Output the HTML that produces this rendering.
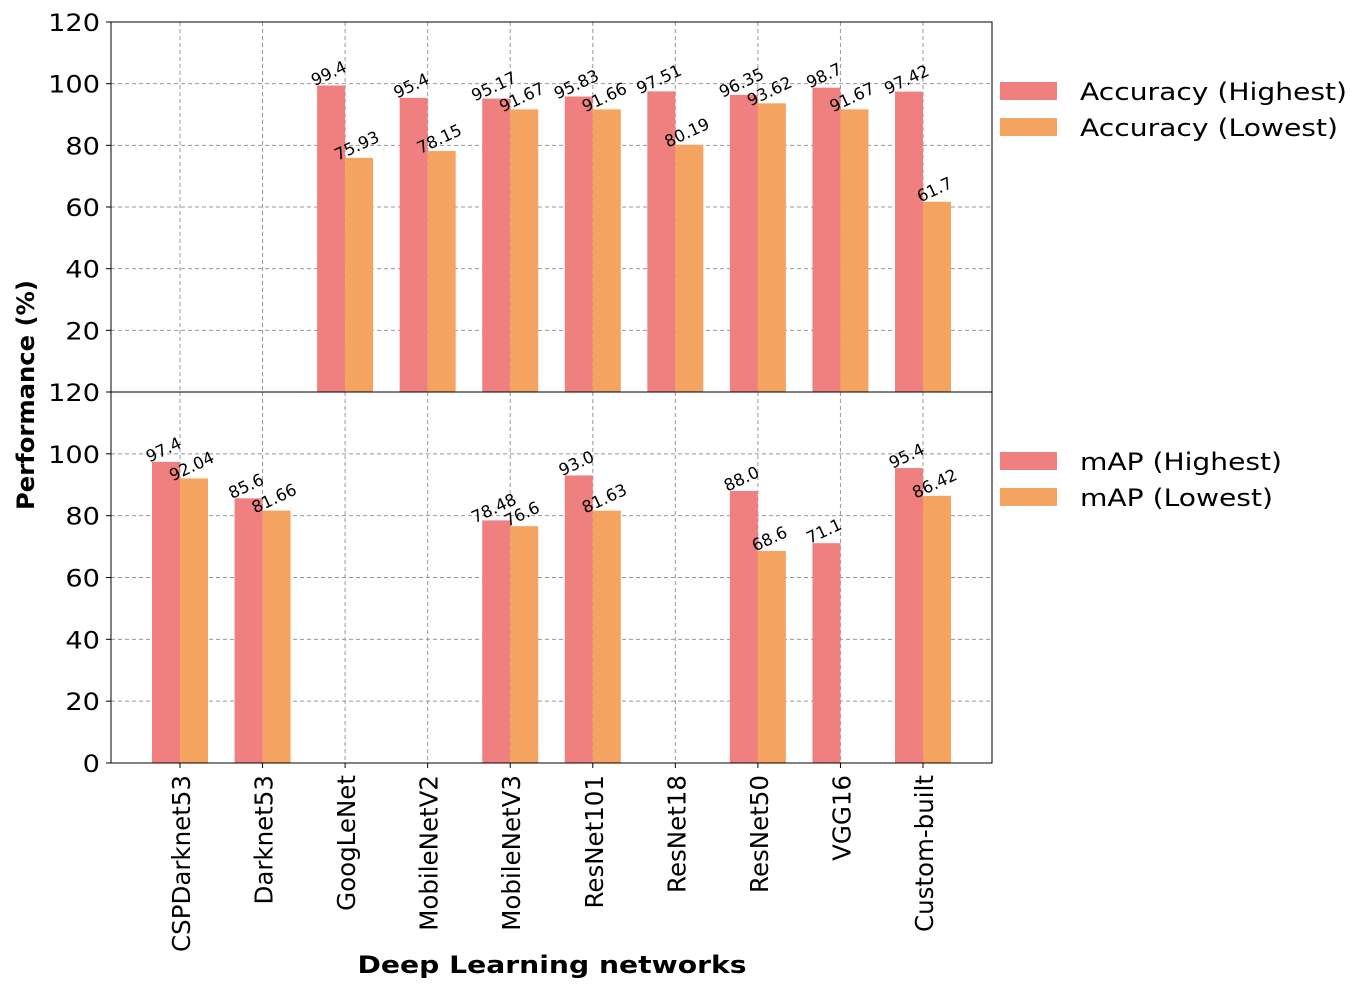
<!DOCTYPE html>
<html><head><meta charset="utf-8"><style>
body{margin:0;background:#fff;}
svg{display:block;font-family:"DejaVu Sans","Liberation Sans",sans-serif;}
</style></head><body>
<svg id="chart" width="1357" height="989" viewBox="0 0 1357 989"></svg>
<script>
const categories=["CSPDarknet53","Darknet53","GoogLeNet","MobileNetV2","MobileNetV3","ResNet101","ResNet18","ResNet50","VGG16","Custom-built"];
const accHigh=[null,null,99.4,95.4,95.17,95.83,97.51,96.35,98.7,97.42];
const accLow=[null,null,75.93,78.15,91.67,91.66,80.19,93.62,91.67,61.7];
const mapHigh=[97.4,85.6,null,null,78.48,93.0,null,88.0,71.1,95.4];
const mapLow=[92.04,81.66,null,null,76.6,81.63,null,68.6,null,86.42];
const accHighLabels=[null,null,"99.4","95.4","95.17","95.83","97.51","96.35","98.7","97.42"];
const accLowLabels=[null,null,"75.93","78.15","91.67","91.66","80.19","93.62","91.67","61.7"];
const mapHighLabels=["97.4","85.6",null,null,"78.48","93.0",null,"88.0","71.1","95.4"];
const mapLowLabels=["92.04","81.66",null,null,"76.6","81.63",null,"68.6",null,"86.42"];
const yTicks=[0,20,40,60,80,100,120];

const svg=document.getElementById('chart');
const NS='http://www.w3.org/2000/svg';
function mk(tag,attrs,parent){const e=document.createElementNS(NS,tag);for(const k in attrs)e.setAttribute(k,attrs[k]);(parent||svg).appendChild(e);return e;}
const L=111,R=992,pad=69;
const step=(R-L-2*pad)/(categories.length-1);
const xC=i=>L+pad+i*step;
const bw=28;
const C1='#F08080',C2='#F4A460';

function panel(top,bottom,hi,lo,hiL,loL,name,showZero){
  const y=v=>bottom-(v/120)*(bottom-top);
  const g=mk('g',{});
  
  
  yTicks.forEach(t=>{
    const ln=mk('line',{x1:L,x2:R,y1:y(t),y2:y(t),stroke:'#999','stroke-dasharray':'4,3','stroke-width':1},g);
    
    
    if(t===0&&!showZero)return;
    const s=String(t);
    const tx=mk('text',{x:L-11,y:y(t)+9,'text-anchor':'end','font-size':24,fill:'#000',textLength:s.length*17.3,lengthAdjust:'spacingAndGlyphs'},g);
    
    
    tx.textContent=s;
    mk('line',{x1:L-5,x2:L,y1:y(t),y2:y(t),stroke:'#000'},g);
  });
  categories.forEach((c,i)=>{
    const ln=mk('line',{x1:xC(i),x2:xC(i),y1:top,y2:bottom,stroke:'#999','stroke-dasharray':'4,3','stroke-width':1},g);
    
    
  });
  function bars(arr,labels,off,col,nm){
    arr.forEach((v,i)=>{
      if(v==null)return;
      const x=xC(i)+off;
      const r=mk('rect',{x:x,y:y(v),width:bw,height:bottom-y(v),fill:col},g);
      
      
      const cx=x+bw/2, cy=y(v)-7;
      const t=mk('text',{x:cx,y:cy,'text-anchor':'middle','font-size':16.5,fill:'#000',transform:`rotate(-25 ${cx} ${cy})`},g);
      
      
      t.textContent=labels[i];
    });
  }
  bars(hi,hiL,-bw,C1,name+'-highest');
  bars(lo,loL,0,C2,name+'-lowest');
  const fr=mk('rect',{x:L,y:top,width:R-L,height:bottom-top,fill:'none',stroke:'#000','stroke-width':1},g);
  
  
}
panel(22,392,accHigh,accLow,accHighLabels,accLowLabels,'accuracy-panel',false);
panel(392,763,mapHigh,mapLow,mapHighLabels,mapLowLabels,'map-panel',true);

categories.forEach((c,i)=>{
  mk('line',{x1:xC(i),x2:xC(i),y1:763,y2:768,stroke:'#000'});
  const t=mk('text',{x:xC(i)+10,y:775,'text-anchor':'end','font-size':24.5,fill:'#000',transform:`rotate(-90 ${xC(i)+10} 775)`});
  
  
  t.textContent=c;
});

const yt=mk('text',{x:34,y:395,'text-anchor':'middle','font-size':24,'font-weight':'bold',fill:'#000',textLength:230,lengthAdjust:'spacingAndGlyphs',transform:'rotate(-90 34 395)'});


yt.textContent='Performance (%)';
const xt=mk('text',{x:552,y:973,'text-anchor':'middle','font-size':24,'font-weight':'bold',fill:'#000',textLength:389,lengthAdjust:'spacingAndGlyphs'});


xt.textContent='Deep Learning networks';

const legendLabels=["Accuracy (Highest)","Accuracy (Lowest)","mAP (Highest)","mAP (Lowest)"];
const legendColors=[C1,C2,C1,C2];
const legendY=[91,127,461,497];
const legendW=[267,258,202,193];
legendLabels.forEach((lab,i)=>{
  const g=mk('g',{});
  
  
  mk('rect',{x:1000,y:legendY[i]-9,width:57,height:18,fill:legendColors[i]},g);
  const t=mk('text',{x:1080,y:legendY[i]+9,'font-size':24,fill:'#000',textLength:legendW[i],lengthAdjust:'spacingAndGlyphs'},g);
  t.textContent=lab;
});
</script>
</body></html>
